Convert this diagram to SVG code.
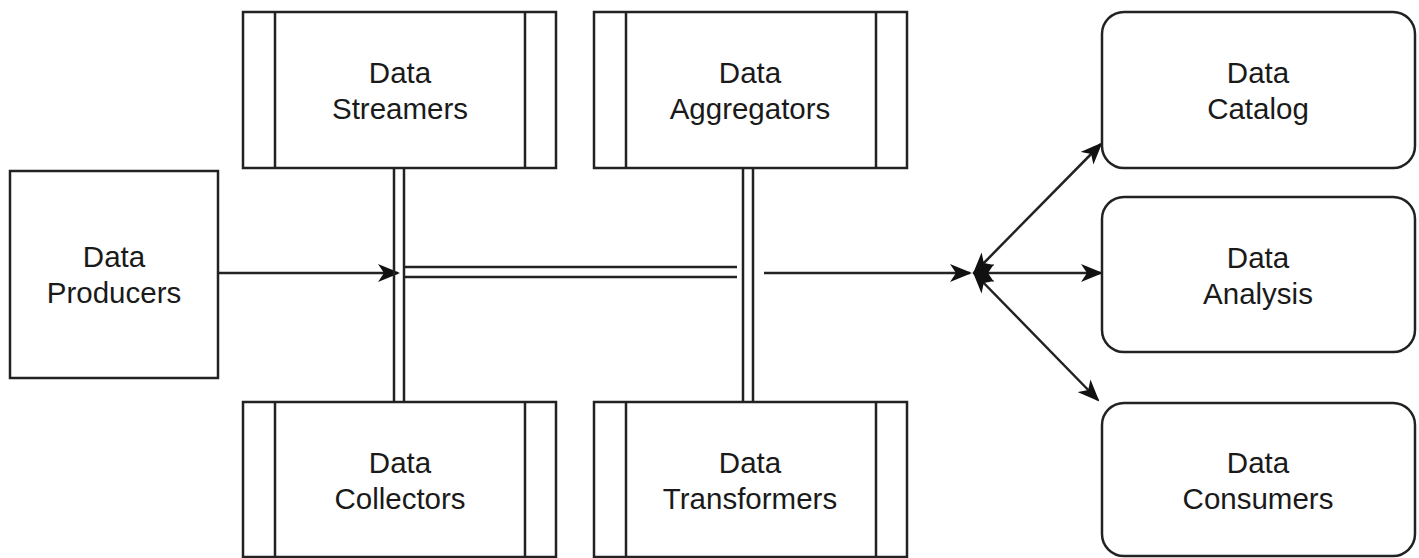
<svg xmlns="http://www.w3.org/2000/svg" width="1419" height="558" viewBox="0 0 1419 558">
<style>
.box{fill:#fff;stroke:#222;stroke-width:2.5}
.ln{fill:none;stroke:#222;stroke-width:2.5}
.t{font-family:"Liberation Sans",Arial,sans-serif;font-size:29.5px;fill:#1a1a1a;text-anchor:middle}
</style>
<defs>
<marker id="ah" viewBox="0 0 22 18" refX="20" refY="9" markerWidth="22" markerHeight="18" markerUnits="userSpaceOnUse" orient="auto-start-reverse">
<path d="M0,0 L22,9 L0,18 L6,9 Z" fill="#111"/>
</marker>
</defs>
<g id="connectors">
<path class="ln" d="M218,273 H398" marker-end="url(#ah)"/>
<path class="ln" d="M394,168 V402 M404,168 V402"/>
<path class="ln" d="M743,168 V402 M753,168 V402"/>
<path class="ln" d="M404,267 H737 M404,277 H737"/>
<path class="ln" d="M764,273 H970" marker-end="url(#ah)"/>
<path class="ln" d="M974,273 L1101,144" marker-start="url(#ah)" marker-end="url(#ah)"/>
<path class="ln" d="M974,273 H1101" marker-start="url(#ah)" marker-end="url(#ah)"/>
<path class="ln" d="M974,273 L1098,400" marker-start="url(#ah)" marker-end="url(#ah)"/>
</g>
<g id="producers">
<rect class="box" x="10" y="171" width="208" height="207"/>
<text class="t" x="114" y="267">Data</text>
<text class="t" x="114" y="303">Producers</text>
</g>
<g id="streamers">
<rect class="box" x="243" y="12" width="313" height="156"/>
<path class="ln" d="M275,12 V168 M525,12 V168"/>
<text class="t" x="400" y="83">Data</text>
<text class="t" x="400" y="119">Streamers</text>
</g>
<g id="aggregators">
<rect class="box" x="594" y="12" width="313" height="156"/>
<path class="ln" d="M626,12 V168 M876,12 V168"/>
<text class="t" x="750" y="83">Data</text>
<text class="t" x="750" y="119">Aggregators</text>
</g>
<g id="collectors">
<rect class="box" x="243" y="402" width="313" height="155"/>
<path class="ln" d="M275,402 V557 M525,402 V557"/>
<text class="t" x="400" y="473">Data</text>
<text class="t" x="400" y="509">Collectors</text>
</g>
<g id="transformers">
<rect class="box" x="594" y="402" width="313" height="155"/>
<path class="ln" d="M626,402 V557 M876,402 V557"/>
<text class="t" x="750" y="473">Data</text>
<text class="t" x="750" y="509">Transformers</text>
</g>
<g id="catalog">
<rect class="box" x="1102" y="12" width="313" height="156" rx="22"/>
<text class="t" x="1258" y="83">Data</text>
<text class="t" x="1258" y="119">Catalog</text>
</g>
<g id="analysis">
<rect class="box" x="1102" y="197" width="313" height="155" rx="22"/>
<text class="t" x="1258" y="268">Data</text>
<text class="t" x="1258" y="304">Analysis</text>
</g>
<g id="consumers">
<rect class="box" x="1102" y="403" width="313" height="153" rx="22"/>
<text class="t" x="1258" y="473">Data</text>
<text class="t" x="1258" y="509">Consumers</text>
</g>
</svg>
